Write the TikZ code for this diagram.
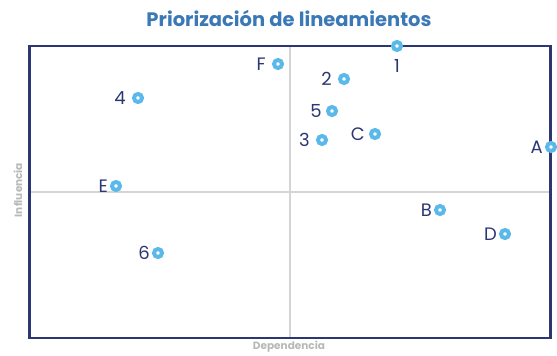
\documentclass[tikz,border=0pt]{standalone}
\usepackage{fontspec}
\setmainfont{Poppins}
\definecolor{navy}{HTML}{2B3672}
\definecolor{ttlblue}{HTML}{3B78B6}
\definecolor{ptblue}{HTML}{5BB9EA}
\definecolor{axgray}{HTML}{D4D4D4}
\definecolor{lblgray}{HTML}{B8B8B8}
\tikzset{
  pt/.style={circle, draw=ptblue, line width=4pt, fill=white, minimum size=8pt, inner sep=0pt},
  lbl/.style={text=navy, font=\fontsize{18}{18}\selectfont, inner sep=1pt, anchor=east},
  axlbl/.style={text=lblgray, font=\bfseries\fontsize{10.5}{11}\selectfont, inner sep=0pt},
  frame/.style={draw=navy, line width=2.5pt},
  axis/.style={draw=axgray, line width=2pt}
}
\begin{document}
\begin{tikzpicture}[x=1pt,y=-1pt]
\useasboundingbox (0,0) rectangle (557,356);
\node[text=ttlblue, font=\bfseries\fontsize{19.5}{19.5}\selectfont] (title) at (289,18) {Priorización de lineamientos};
\coordinate (vt) at (290,46);
\coordinate (vb) at (290,338);
\coordinate (hl) at (29.5,192);
\coordinate (hr) at (550.5,192);
\draw[axis] (vt) -- (vb);
\draw[axis] (hl) -- (hr);
\draw[frame] (29.5,46) rectangle (550.5,338);
\node[axlbl, rotate=90] (yl) at (18,190) {Influencia};
\node[axlbl] (xl) at (289,347) {Dependencia};
% points
\node[pt] (p1) at (397,46) {};
\node[text=navy, font=\fontsize{18}{18}\selectfont, inner sep=0pt] (l1) at (397,66) {1};
\node[pt] (pF) at (278,64) {};
\node[lbl] (lF) at ([xshift=-5pt]pF.west) {F};
\node[pt] (p2) at (344,79) {};
\node[lbl] (l2) at ([xshift=-5pt]p2.west) {2};
\node[pt] (p4) at (138,98) {};
\node[lbl] (l4) at ([xshift=-5pt]p4.west) {4};
\node[pt] (p5) at (332,111) {};
\node[lbl] (l5) at ([xshift=-3pt]p5.west) {5};
\node[pt] (p3) at (322,140) {};
\node[lbl] (l3) at ([xshift=-5pt]p3.west) {3};
\node[pt] (pC) at (375,134) {};
\node[lbl] (lC) at ([xshift=-3pt]pC.west) {C};
\node[pt] (pA) at (551,147) {};
\node[lbl] (lA) at ([xshift=-1pt]pA.west) {A};
\node[pt] (pE) at (116,186) {};
\node[lbl] (lE) at ([xshift=-1pt]pE.west) {E};
\node[pt] (pB) at (440,210) {};
\node[lbl] (lB) at ([xshift=-1pt]pB.west) {B};
\node[pt] (pD) at (505,234) {};
\node[lbl] (lD) at ([xshift=-1pt]pD.west) {D};
\node[pt] (p6) at (158,253) {};
\node[lbl] (l6) at ([xshift=-1pt]p6.west) {6};
\end{tikzpicture}
\end{document}
